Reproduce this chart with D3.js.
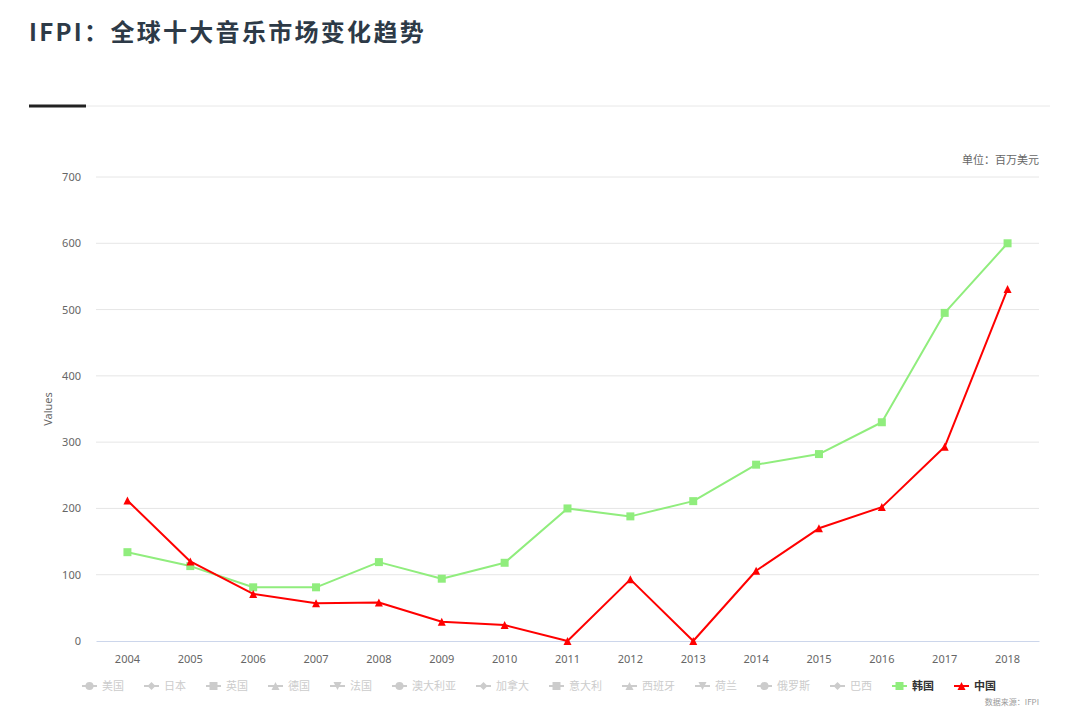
<!DOCTYPE html>
<html>
<head>
<meta charset="utf-8">
<script src="https://cdn.jsdelivr.net/npm/d3@7"></script>
<style>
  body { margin: 0; background: #fff; }
  svg { font-family: "Noto Sans CJK SC", "Noto Sans", sans-serif; }
</style>
</head>
<body>
<svg id="chart" width="1080" height="716"></svg>
<script>
// Years on the x axis
const years = ["2004","2005","2006","2007","2008","2009","2010","2011","2012","2013","2014","2015","2016","2017","2018"];
// Visible series (millions USD)
const korea = [134, 113, 81, 81, 119, 94, 118, 200, 188, 211, 266, 282, 330, 495, 600];
const china = [212, 120, 71, 57, 58, 29, 24, 0, 93, 0, 106, 170, 202, 293, 531];
// Legend entries (hidden series are greyed out)
const legendNames = ["美国","日本","英国","德国","法国","澳大利亚","加拿大","意大利","西班牙","荷兰","俄罗斯","巴西","韩国","中国"];
const legendSymbols = ["circle","diamond","square","triangle","triangle-down","circle","diamond","square","triangle","triangle-down","circle","diamond","square","triangle"];
const yTicks = [0, 100, 200, 300, 400, 500, 600, 700];

const width = 1080, height = 716;
let margin = {left: 96, right: 41, top: 177, bottom: 75};

let svg = d3.select("#chart");

// Title and header rule
svg.append("text")
    .attr("x", 29).attr("y", 41)
    .style("font-size", "24px")
    .style("font-weight", "bold")
    .style("letter-spacing", "2.3px")
    .attr("fill", "#2d3a47")
    .text("IFPI：全球十大音乐市场变化趋势");
svg.append("line").attr("x1", 86).attr("x2", 1050).attr("y1", 106).attr("y2", 106)
    .attr("stroke", "#e8e8e8").attr("stroke-width", 1);
svg.append("line").attr("x1", 29).attr("x2", 86).attr("y1", 106).attr("y2", 106)
    .attr("stroke", "#222").attr("stroke-width", 3);

// Unit label
svg.append("text")
    .attr("x", 1039).attr("y", 164)
    .style("text-anchor", "end")
    .style("font-size", "11px")
    .attr("fill", "#666")
    .text("单位：百万美元");

let plot = svg.append("g");

// Category scale (each year owns a band, point in the middle)
let x = d3.scaleBand()
    .domain(years)
    .range([margin.left, width - margin.right])
    .padding(0);
let y = d3.scaleLinear()
    .domain([0, 700])
    .range([height - margin.bottom, margin.top]);

// Grid lines
plot.append("g")
    .selectAll("line").data(yTicks.filter(d => d > 0)).enter()
    .append("line")
    .attr("x1", margin.left).attr("x2", width - margin.right)
    .attr("y1", d => y(d)).attr("y2", d => y(d))
    .attr("stroke", "#e6e6e6");

// Y axis labels
let yAxis = plot.append("g")
    .attr("transform", `translate(${margin.left - 15}, 0)`)
    .call(d3.axisLeft(y).tickValues(yTicks).tickSize(0).tickPadding(0));
yAxis.select(".domain").remove();
yAxis.selectAll("text").style("font-size", "11px").attr("fill", "#666")
    .style("font-family", "'Noto Sans', sans-serif");

// Y axis title
svg.append("text")
    .attr("transform", `translate(52, ${(y(0) + y(700)) / 2}) rotate(-90)`)
    .style("text-anchor", "middle")
    .style("font-size", "11px")
    .attr("fill", "#666")
    .style("font-family", "'Noto Sans', sans-serif")
    .text("Values");

// X axis
let xAxis = plot.append("g")
    .attr("transform", `translate(0, ${y(0)})`)
    .call(d3.axisBottom(x).tickSize(0).tickPadding(14));
xAxis.select(".domain").attr("stroke", "#ccd6eb");
xAxis.selectAll("text").style("font-size", "11px").attr("fill", "#666")
    .style("font-family", "'Noto Sans', sans-serif");

const cx = d => x(d) + x.bandwidth() / 2;

function symbolPath(type, size) {
    const s = size;
    if (type === "circle") return d3.symbol(d3.symbolCircle, s * s * 0.8)();
    if (type === "square") return `M${-s/2},${-s/2}h${s}v${s}h${-s}Z`;
    if (type === "diamond") return `M0,${-s/2}L${s/2},0L0,${s/2}L${-s/2},0Z`;
    if (type === "triangle") return `M0,${-s/2}L${s/2},${s/2}L${-s/2},${s/2}Z`;
    return `M${-s/2},${-s/2}L${s/2},${-s/2}L0,${s/2}Z`;
}

function drawSeries(values, color, sym) {
    let line = d3.line()
        .x((d, i) => cx(years[i]))
        .y(d => y(d));
    plot.append("path")
        .datum(values)
        .attr("fill", "none")
        .attr("stroke", color)
        .attr("stroke-width", 2)
        .attr("stroke-linejoin", "round")
        .attr("d", line);
    plot.append("g").selectAll("path").data(values).enter()
        .append("path")
        .attr("transform", (d, i) => `translate(${cx(years[i])}, ${y(d)})`)
        .attr("d", symbolPath(sym, 8))
        .attr("fill", color);
}

drawSeries(korea, "#90ed7d", "square");
drawSeries(china, "#ff0000", "triangle");

// Legend
const legendColors = {"韩国": "#90ed7d", "中国": "#ff0000"};
let legend = svg.append("g").attr("transform", "translate(82, 686)");
let lx = 0;
legendNames.forEach(function(name, i) {
    let active = legendColors[name] !== undefined;
    let col = active ? legendColors[name] : "#cccccc";
    let item = legend.append("g").attr("transform", `translate(${lx}, 0)`);
    item.append("line").attr("x1", 0).attr("x2", 15).attr("y1", 0).attr("y2", 0)
        .attr("stroke", col).attr("stroke-width", 2);
    item.append("path").attr("transform", "translate(7.5, 0)")
        .attr("d", symbolPath(legendSymbols[i], 8)).attr("fill", col);
    let t = item.append("text")
        .attr("x", 20).attr("y", 4)
        .style("font-size", "11px")
        .style("font-weight", active ? "bold" : "normal")
        .attr("fill", active ? "#333" : "#cccccc")
        .text(name);
    lx += 20 + t.node().getComputedTextLength() + 20;
});

// Source
svg.append("text")
    .attr("x", 1039).attr("y", 705)
    .style("text-anchor", "end")
    .style("font-size", "8px")
    .attr("fill", "#999")
    .text("数据来源：IFPI");
</script>
</body>
</html>
